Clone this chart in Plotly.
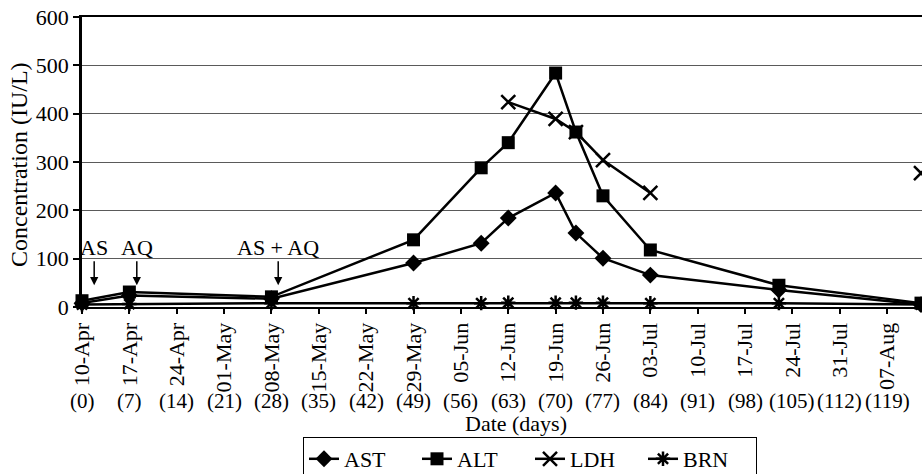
import plotly.graph_objects as go

# ---- data (days since 10-Apr) ----
days = [0, 7, 28, 49, 59, 63, 70, 73, 77, 84, 103, 124]
ast = [8, 24, 17, 91, 132, 184, 236, 153, 101, 66, 35, 5]
alt = [13, 31, 21, 139, 288, 340, 484, 362, 230, 118, 45, 8]
ldh = [None, None, None, None, None, 424, 389, 362, 304, 236, None, 277]
brn = [5, 6, 8, 8, 8, 9, 9, 9, 9, 8, 8, 5]

tick_days = [0, 7, 14, 21, 28, 35, 42, 49, 56, 63, 70, 77, 84, 91, 98, 105, 112, 119]
tick_dates = ["10-Apr", "17-Apr", "24-Apr", "01-May", "08-May", "15-May", "22-May",
              "29-May", "05-Jun", "12-Jun", "19-Jun", "26-Jun", "03-Jul", "10-Jul",
              "17-Jul", "24-Jul", "31-Jul", "07-Aug"]
day_labels = ["(%d)" % d for d in tick_days]

y_ticks = [0, 100, 200, 300, 400, 500, 600]

dose_labels = ["AS", "AQ", "AS + AQ"]
dose_days = [1.8, 8.1, 29.0]

FONT = "Liberation Serif"
W, H = 922, 474
ML, MT, MB, MR = 82, 17, 167, 0
PW, PH = W - ML - MR, H - MT - MB

def px_to_paper_x(px):
    return (px - ML) / PW

def px_to_paper_y(py):
    return (H - MB - py) / PH

fig = go.Figure()
common = dict(mode="lines+markers", line=dict(color="black", width=2.5), cliponaxis=False)
fig.add_trace(go.Scatter(x=days, y=ast, name="AST",
                         marker=dict(symbol="diamond", size=13, color="black"), **common))
fig.add_trace(go.Scatter(x=days, y=alt, name="ALT",
                         marker=dict(symbol="square", size=13, color="black"), **common))
fig.add_trace(go.Scatter(x=days, y=ldh, name="LDH", connectgaps=False,
                         marker=dict(symbol="x-thin-open", size=14, color="black",
                                     line=dict(width=2.5, color="black")), **common))
fig.add_trace(go.Scatter(x=days, y=brn, name="BRN",
                         marker=dict(symbol="asterisk-open", size=12, color="black",
                                     line=dict(width=2.5, color="black")), **common))

annotations = []
for d, lab in zip(tick_days, day_labels):
    annotations.append(dict(x=d, xref="x", y=px_to_paper_y(401), yref="paper",
                            text=lab, showarrow=False, xanchor="center", yanchor="middle",
                            font=dict(family=FONT, size=21, color="black")))
for d, lab in zip(dose_days, dose_labels):
    annotations.append(dict(x=d, xref="x", y=45, yref="y", text=lab,
                            showarrow=True, ax=0, ay=-38, arrowhead=2, arrowsize=1.1,
                            arrowwidth=1.5, arrowcolor="black", standoff=0,
                            font=dict(family=FONT, size=22, color="black")))
annotations.append(dict(x=px_to_paper_x(516), xref="paper", y=px_to_paper_y(423), yref="paper",
                        text="Date (days)", showarrow=False, xanchor="center", yanchor="middle",
                        font=dict(family=FONT, size=22, color="black")))
annotations.append(dict(x=px_to_paper_x(19), xref="paper", y=px_to_paper_y(165), yref="paper",
                        text="Concentration (IU/L)", textangle=-90, showarrow=False,
                        xanchor="center", yanchor="middle",
                        font=dict(family=FONT, size=24, color="black")))

fig.update_layout(
    width=W, height=H,
    margin=dict(l=ML, r=MR, t=MT, b=MB, autoexpand=False),
    paper_bgcolor="white", plot_bgcolor="white",
    font=dict(family=FONT, color="black"),
    showlegend=True,
    legend=dict(orientation="h", x=px_to_paper_x(303), y=px_to_paper_y(437),
                xanchor="left", yanchor="top", bordercolor="black", borderwidth=1,
                bgcolor="white", font=dict(family=FONT, size=22, color="black"),
                entrywidth=68, entrywidthmode="pixels", tracegroupgap=0),
    annotations=annotations,
    xaxis=dict(range=[0, 124.15], tickmode="array", tickvals=tick_days, ticktext=tick_dates,
               tickangle=-90, ticks="outside", ticklen=5, tickwidth=1.5, tickcolor="black",
               showline=True, linecolor="black", linewidth=2, mirror=True,
               showgrid=False, zeroline=False,
               tickfont=dict(family=FONT, size=22, color="black")),
    yaxis=dict(range=[0, 600], tickmode="array", tickvals=y_ticks,
               ticks="outside", ticklen=6, tickwidth=1.5, tickcolor="black",
               showline=True, linecolor="black", linewidth=2.5,
               showgrid=True, gridcolor="#5a5a5a", gridwidth=1, zeroline=False,
               tickfont=dict(family=FONT, size=22, color="black")),
)

fig.write_html("out.html", config={"displayModeBar": False},
               post_script="document.body.style.margin='0';document.body.style.overflow='hidden';")
